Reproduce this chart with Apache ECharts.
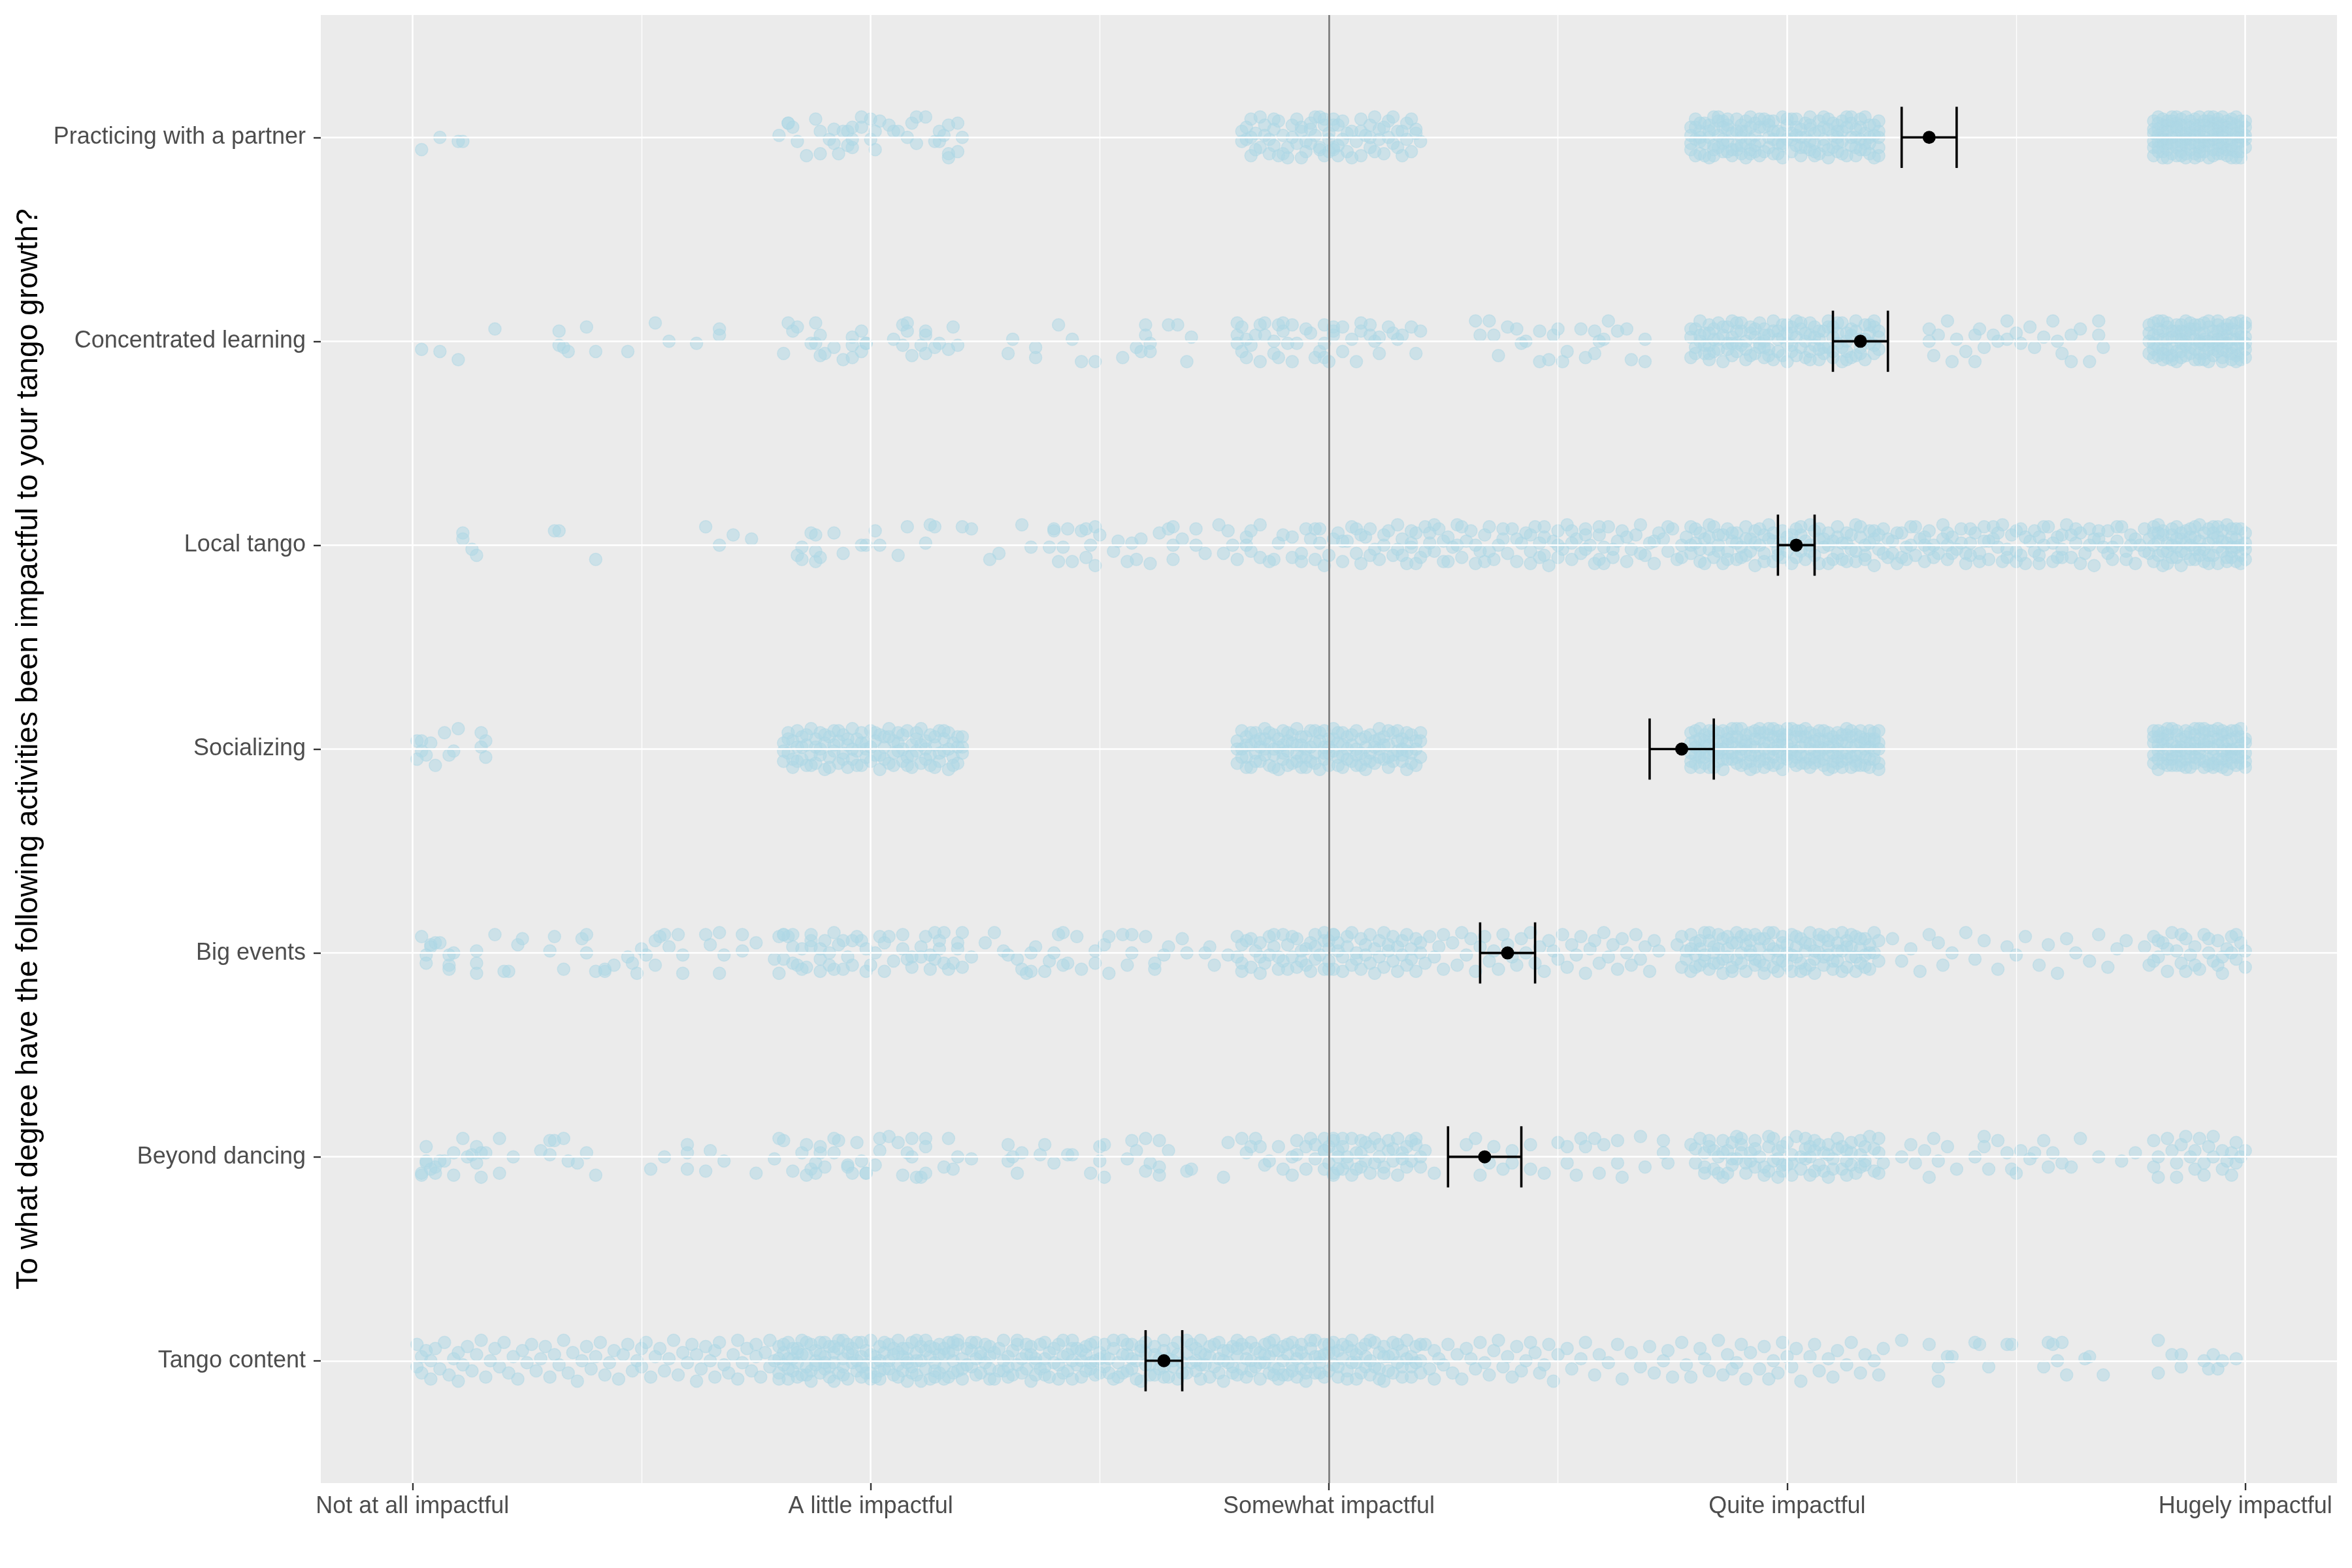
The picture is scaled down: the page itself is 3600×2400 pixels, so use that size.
<!doctype html>
<html>
<head>
<meta charset="utf-8">
<title>Tango growth activities</title>
<script src="https://cdn.jsdelivr.net/npm/echarts@6/dist/echarts.min.js"></script>
<style>html,body{margin:0;background:#fff}#chart{width:3600px;height:2400px}</style>
</head>
<body>
<div id="chart"></div>
<script>
// categories bottom to top
var activities = ['Tango content', 'Beyond dancing', 'Big events', 'Socializing', 'Local tango', 'Concentrated learning', 'Practicing with a partner'];
var levelLabels = ['Not at all impactful', 'A little impactful', 'Somewhat impactful', 'Quite impactful', 'Hugely impactful'];
var levelValues = [1, 2, 3, 4, 5];
var rowValues = [1, 2, 3, 4, 5, 6, 7];

// mean and 95% interval per activity (same order)
var means = [2.64, 3.34, 3.39, 3.77, 4.02, 4.16, 4.31];
var lower = [2.60, 3.26, 3.33, 3.70, 3.98, 4.10, 4.25];
var upper = [2.68, 3.42, 3.45, 3.84, 4.06, 4.22, 4.37];

// jittered answers, flat pairs: impact*100, vertical jitter*100
var tangoContent = [101,8,101,-3,102,-6,102,2,103,5,104,-9,104,0,105,6,106,-4,107,9,108,-7,109,1,110,4,110,-10,111,-2,112,7,113,-5,114,3,115,10,116,-8,117,0,118,6,119,-3,120,9,121,-6,122,2,123,-9,124,5,125,-1,126,8,127,-5,128,1,129,7,130,-8,131,3,132,-2,133,10,134,-6,135,4,136,-10,137,0,138,7,139,-4,140,2,141,9,142,-7,143,-1,144,5,145,-9,146,3,147,8,148,-5,149,0,150,6,
150,-3,151,9,152,-8,153,2,154,6,155,-5,156,1,157,10,158,-7,159,4,160,-1,161,8,162,-10,162,3,163,-4,164,7,165,0,166,-8,166,5,167,9,168,-2,169,-6,170,3,171,10,171,-9,172,-1,173,6,174,-5,175,2,175,8,176,-8,177,4,178,-3,178,10,179,0,180,-6,
180,7,181,-2,181,4,182,-9,182,9,183,1,183,-5,184,6,184,-1,185,10,185,-7,186,3,186,-3,187,8,187,-10,188,0,188,5,189,-6,189,9,190,2,190,-4,191,7,191,-8,192,-1,192,4,193,10,193,-6,194,1,194,-3,195,8,195,-9,196,3,196,6,197,-5,197,0,198,9,198,-8,199,-2,199,5,200,10,200,-6,201,2,201,-1,202,7,202,-9,203,4,203,-4,204,0,204,8,205,-7,205,3,206,10,206,-2,207,-5,207,6,208,1,208,-10,209,9,209,-3,210,4,210,-7,211,0,211,7,212,-4,212,10,213,2,213,-9,214,6,214,-1,215,-6,215,8,216,3,216,-3,217,9,217,-8,218,0,218,5,219,-5,219,10,220,1,220,-9,
221,6,222,-3,223,9,223,-7,224,2,225,-1,226,7,226,-9,227,4,228,-5,229,10,229,0,230,-8,231,5,232,-2,232,8,233,-6,234,3,235,-10,235,7,236,1,237,-4,238,9,238,-7,239,4,240,-1,241,8,241,-9,242,2,243,-5,244,6,244,10,245,-2,246,-8,247,3,247,7,248,-4,249,0,249,9,250,-6,250,4,
251,8,251,-3,252,1,253,-9,253,6,254,-1,255,10,255,-6,256,3,257,-4,257,8,258,0,259,-10,259,5,260,-2,260,9,261,-7,262,3,262,7,263,-4,264,10,264,-8,265,1,266,-3,266,6,267,9,267,-9,268,-1,269,4,269,-6,270,8,271,0,271,-5,272,10,272,-2,273,3,274,-8,274,7,275,-3,276,1,276,9,277,-10,277,5,278,-1,279,7,279,-6,280,2,280,10,281,-4,282,6,282,-8,283,0,283,9,284,-3,285,4,285,-9,286,8,286,-1,287,2,287,-6,288,10,288,5,289,-4,289,-9,290,7,290,0,291,-7,291,3,292,9,292,-2,293,5,293,-8,294,-4,294,8,295,1,295,-10,296,6,296,-3,297,10,297,-6,298,2,298,-1,299,8,299,-8,300,4,300,-5,
301,9,301,-2,302,5,302,-8,303,1,304,7,304,-5,305,-1,305,10,306,3,306,-9,307,6,308,-3,308,8,309,0,309,-7,310,9,311,-4,311,4,312,-10,312,7,313,2,314,-6,314,9,315,-1,316,5,316,-8,317,10,318,-3,318,2,319,7,320,-6,320,0,321,8,322,-4,323,5,323,-9,324,1,325,-2,
326,8,327,-6,328,3,329,-9,330,6,331,1,332,-4,333,9,334,-1,335,-7,336,5,337,10,338,-3,339,2,340,-8,341,7,342,-5,343,0,344,9,345,4,346,-6,347,-2,348,8,349,-10,350,3,352,6,353,-4,355,1,356,9,358,-7,359,3,361,-1,363,8,364,-9,366,4,368,-3,370,7,371,-6,373,0,374,5,375,-8,
377,9,378,-2,379,-8,381,6,382,1,383,-5,385,10,386,-7,387,3,389,-1,390,8,391,-9,392,4,394,-4,395,7,397,0,398,-6,399,9,401,-3,402,6,403,-10,405,2,406,8,407,-5,409,1,410,-8,411,5,413,-2,414,9,416,-6,417,3,419,0,420,-7,421,6,396,-9,388,-4,400,2,
425,10,431,8,433,-3,433,-10,435,2,436,2,441,9,442,8,444,-3,448,8,449,8,456,-3,457,9,458,8,459,0,460,9,461,-7,465,1,466,2,469,-7,481,-6,481,10,484,3,486,-3,486,3,491,0,492,-4,493,3,494,-4,495,0,498,1];
var tangoContentMore = [180,1,180,-9,181,8,182,-4,183,6,184,-8,185,3,186,9,187,-5,188,-2,189,3,190,9,191,-3,192,-10,193,6,194,-7,195,4,196,-1,197,9,198,2,199,-6,200,3,201,-8,202,0,203,9,204,-4,205,6,206,-8,207,2,208,6,209,-6,210,0,211,-10,212,5,213,7,214,-5,215,3,216,-9,217,4,218,-6,219,8,220,-4,182,1,186,-7,190,-1,194,10,198,-3,202,-5,206,4,210,10,214,-8,218,9,184,4,192,7,200,-9,208,-1,216,6,
221,-2,222,5,223,1,224,-6,225,8,226,-4,227,-9,228,6,229,-5,230,2,231,-7,232,10,233,1,234,-4,235,3,236,-7,237,8,238,1,239,-8,240,6,241,-2,242,10,243,3,244,-9,245,6,246,0,247,-5,248,8,249,-7,250,1,222,9,226,2,230,-3,234,8,238,-3,242,-6,246,5,248,-1,224,4,236,-1,244,0,
251,2,252,-6,253,10,254,-8,255,3,256,-5,257,1,258,-9,259,7,260,4,261,-2,262,-7,263,1,264,5,265,-8,266,0,267,3,268,-6,269,10,270,-1,271,6,272,-9,273,-2,274,2,275,8,276,-6,277,0,278,5,279,-3,280,-7,281,8,282,1,283,-5,284,6,285,-1,286,3,287,9,288,-3,289,5,290,-7,291,8,292,-5,293,1,294,4,295,-6,296,10,297,2,298,-6,299,3,300,8,256,8,264,-3,272,4,280,6,288,-7,
301,4,302,-3,303,8,304,-9,305,5,306,-1,307,-6,308,2,309,10,310,-3,311,-9,312,2,313,-5,314,3,315,8,316,-3,317,1,318,-8,319,-1,320,8];

var beyondDancing = [102,-9,102,-8,103,-3,103,5,103,-2,104,-6,105,-5,105,-8,106,-2,107,-2,109,2,109,-9,111,9,112,0,113,1,114,5,114,-3,115,2,115,-10,116,2,119,9,119,-8,122,0,128,3,130,1,130,8,131,8,133,9,134,-2,136,-3,138,2,140,-9,
152,-6,155,0,160,6,160,-6,160,2,164,-7,165,3,168,-2,175,-8,179,-1,180,9,181,8,183,-7,185,2,186,-9,186,6,187,-6,188,-8,188,-3,189,2,189,5,190,-5,192,9,192,2,193,8,195,-4,195,-5,196,-8,197,7,198,-2,199,-8,199,-8,201,-4,202,9,202,3,204,10,206,7,207,-9,208,2,209,9,209,0,210,-10,211,-10,212,9,212,-8,212,5,216,-5,217,9,218,-6,219,0,222,-1,
230,6,230,-2,231,0,232,-8,233,2,237,1,238,6,240,-3,243,1,244,1,248,-8,250,-2,250,5,251,-10,251,6,256,-1,257,8,258,3,260,9,260,-7,261,-3,263,8,263,-5,263,-9,265,3,269,-7,270,-6,277,-10,278,7,281,9,282,2,283,5,284,9,285,5,286,-4,287,-2,289,5,290,-6,292,-9,292,0,293,8,293,1,295,-6,295,5,296,9,297,6,297,-1,299,-6,299,3,301,9,301,-8,
299,9,299,3,300,-3,301,-9,301,8,302,0,303,-6,303,5,304,-3,305,9,305,-9,306,2,307,8,307,-5,308,-2,309,5,309,-8,310,9,311,0,311,6,312,-5,313,3,313,8,314,-2,315,-9,315,9,316,2,317,-5,317,5,318,-2,319,9,319,6,320,0,323,-8,
330,6,332,9,333,-9,335,-3,336,5,338,-6,340,3,340,-3,344,-6,344,6,347,-8,
350,7,352,5,352,-3,354,-9,355,9,356,5,358,9,359,-8,360,6,363,-3,363,8,364,-10,368,10,369,-5,373,8,373,2,374,-3,
379,6,380,-3,381,9,382,-8,382,2,383,5,384,-6,385,0,386,8,386,-10,387,3,388,-4,389,10,389,-1,390,6,391,-8,392,2,393,-5,393,8,394,0,395,-9,396,5,397,-2,397,9,398,3,399,-7,400,7,401,-3,401,1,402,10,403,-6,404,4,405,-9,405,0,406,8,407,-4,408,2,409,-10,409,6,410,-1,411,9,412,-6,413,3,413,-2,414,7,415,-8,416,1,417,5,417,-4,418,10,419,-7,420,2,421,-3,384,3,388,7,392,-2,396,-7,400,-4,404,-1,408,-7,412,5,416,-5,420,9,390,2,398,-10,406,3,414,-4,
425,0,427,6,428,-3,430,3,431,-10,432,9,433,-2,435,5,437,-6,441,0,443,10,443,5,444,-6,446,8,448,2,449,-6,450,-8,451,3,453,-1,454,2,456,8,457,-5,458,2,460,-3,462,-5,464,9,468,0,473,-2,
476,2,480,8,480,-5,481,-10,481,0,483,9,484,3,485,-10,485,-3,486,6,487,10,488,0,489,-6,489,3,490,9,491,-3,491,-9,492,5,493,10,493,0,495,-6,495,3,496,-2,497,-9,497,2,498,7,498,-3,499,0,500,3];
var beyondDancingMore = [300,5,302,-6,303,9,304,0,306,-6,307,2,308,7,310,-3,312,-8,314,4,316,-1,318,8,320,-5,321,3,302,3,
380,4,382,-5,383,8,385,-8,386,2,388,-1,390,9,391,-3,393,4,395,-5,396,10,398,-1,399,5,401,-9,403,0,404,9,406,-7,407,6,409,1,410,-6,411,4,413,-9,414,2,416,8,417,-2,419,4,420,-8,387,-8,399,-4,405,5];

var bigEvents = [102,8,104,4,104,3,105,5,106,5,103,-1,103,-5,108,-1,109,0,108,-6,108,-8,114,1,114,-5,114,-10,118,9,120,-9,121,-9,123,4,124,7,130,1,131,8,133,-8,137,7,138,9,138,0,140,-9,142,-9,142,-8,144,-6,147,-2,148,-5,149,-10,150,2,151,-1,153,-6,153,6,154,8,155,9,156,3,159,-1,158,9,159,-10,164,9,165,4,167,10,167,-10,168,-1,172,9,172,1,175,5,179,-3,180,8,180,-10,181,9,181,9,182,8,183,9,183,-5,184,-6,185,2,186,-7,187,6,187,3,189,-3,189,-9,190,6,191,0,192,-8,192,10,194,6,194,-8,196,-6,196,6,198,6,199,2,200,-6,202,8,203,-9,204,8,207,2,208,-3,209,-2,211,-2,212,8,213,-8,214,10,214,-3,215,2,216,10,216,-5,218,-5,219,5,220,-7,220,10,222,-2,225,5,227,10,229,1,230,-1,232,-3,233,-8,234,-10,235,-9,235,0,236,3,238,-9,239,-4,240,0,241,9,242,-6,242,10,243,-5,245,8,246,-8,249,-5,249,1,251,4,252,-10,252,8,255,9,256,-6,257,0,257,9,260,8,262,-5,262,-8,264,-1,265,3,268,7,269,0,273,0,274,3,275,-6,278,-1,280,8,281,-5,281,4,283,7,283,-7,285,-10,285,-2,287,8,288,3,289,-8,290,9,291,-8,292,-2,293,7,295,2,295,-6,296,5,297,9,297,-3,299,6,299,-8,300,2,301,9,
300,6,300,-4,301,9,301,-8,302,1,302,5,303,-2,303,-9,304,8,304,3,305,-6,305,10,306,0,306,-3,307,7,307,-8,308,4,308,-1,309,9,309,-5,310,2,310,-10,311,6,311,-2,312,10,312,-7,313,1,313,4,314,-4,314,8,315,-9,315,3,316,6,316,-1,317,9,317,-6,318,2,318,-3,319,7,319,-9,320,5,320,0,321,-5,322,8,323,-2,324,3,325,-8,325,9,
327,5,328,-6,329,10,330,-1,331,7,332,-9,333,3,334,8,335,-4,336,1,337,-8,338,9,339,4,340,-2,341,-6,342,7,343,0,344,10,345,-5,346,3,347,-9,348,6,349,1,350,-3,351,9,352,-7,353,4,354,-1,355,8,356,-10,357,2,358,6,359,-5,360,10,361,-2,362,4,363,-8,364,7,365,0,366,-6,367,9,368,-3,369,3,370,-9,371,6,372,1,
376,4,377,-7,377,8,378,1,378,-3,379,9,379,-9,380,5,380,-1,381,-6,381,2,382,10,382,-4,383,6,383,-8,384,0,384,3,385,9,385,-5,386,-10,386,7,387,2,387,-2,388,-7,388,5,389,10,389,-3,390,0,390,8,391,-9,391,4,392,-1,392,6,393,-6,393,9,394,2,394,-4,395,7,395,-10,396,-1,396,4,397,10,397,-7,398,1,398,-3,399,8,399,5,400,-6,400,0,401,9,401,-9,402,3,402,-2,403,7,403,-5,404,-8,404,1,405,10,405,4,406,-3,406,-10,407,6,407,0,408,-6,408,8,409,3,409,-1,410,9,410,-8,411,5,411,-4,412,1,412,10,413,-7,413,6,414,-2,414,3,415,8,415,-9,416,-5,416,2,417,7,417,-1,418,-8,418,4,419,10,419,0,420,-4,420,6,
423,7,425,-4,427,2,429,-9,431,9,433,5,434,-6,436,0,439,10,441,-3,443,6,446,-8,448,3,450,-1,452,8,455,-6,457,4,459,-10,461,7,463,0,466,-4,468,9,470,-7,472,2,474,6,
478,3,479,-6,480,8,481,-2,482,5,483,-9,484,10,485,1,486,-5,487,7,488,-1,489,3,490,-8,491,9,492,0,493,-4,494,6,495,-10,496,2,497,8,498,-3,499,5,500,-7,480,-4,483,2,486,9,489,-6,492,7,495,-2,498,9,500,1,481,6,487,-9,494,-6,497,0];
var bigEventsMore = [181,-3,183,3,185,-8,187,9,189,2,191,-6,193,4,195,-2,197,8,199,-9,201,0,203,5,205,-4,207,9,209,-7,211,3,213,-1,215,6,217,-8,219,2,
280,-2,281,-9,282,6,284,1,285,5,286,-5,287,-1,288,9,290,-4,291,4,292,8,293,-7,294,1,296,-9,297,3,298,-1,299,10,300,-8,289,-2,294,-4,
379,2,380,-7,381,6,382,-1,383,10,384,-5,385,2,386,-3,387,8,388,-9,389,5,390,-5,391,9,392,1,393,-3,394,7,395,-6,396,10,397,2,398,-9,399,-4,400,4,401,-1,402,8,403,-9,404,5,405,-6,406,1,407,9,408,-2,409,6,410,-4,411,1,412,-9,413,3,414,9,415,-2,416,7,417,-7,418,0];

var socializing = [101,4,102,4,102,-1,103,-3,105,-8,104,3,107,8,108,-3,109,-1,110,10,115,8,115,1,116,4,116,-4,101,-5,
181,3,181,-6,182,8,182,-2,183,-9,183,4,184,1,184,9,185,-5,185,6,186,-8,186,2,187,10,187,-3,188,5,188,-7,189,0,189,8,190,-10,190,3,191,6,191,-4,192,-1,192,9,193,-7,193,4,194,7,194,-2,195,2,195,-9,196,10,196,-5,197,-1,197,5,198,8,198,-8,199,0,199,3,200,-6,200,9,201,4,201,-3,202,-10,202,7,203,1,203,-5,204,6,204,10,205,-2,205,-8,206,3,206,8,207,-6,207,0,208,9,208,-4,209,2,209,-9,210,5,210,-1,211,10,211,-7,212,0,212,4,213,7,213,-3,214,-9,214,2,215,9,215,-6,216,-1,216,5,217,8,217,-10,218,3,218,-4,219,-7,219,6,220,1,220,-2,
280,4,280,-7,281,9,281,0,282,-4,282,6,283,-9,283,2,284,8,284,-2,285,5,285,-6,286,10,286,0,287,-8,287,3,288,7,288,-3,289,-10,289,1,290,9,290,-5,291,4,291,-1,292,-7,292,7,293,2,293,10,294,-4,294,-9,295,6,295,0,296,-6,296,9,297,3,297,-2,298,-10,298,8,299,1,299,-5,300,5,300,-8,301,10,301,-1,302,-4,302,3,303,8,303,-9,304,0,304,6,305,-6,305,2,306,9,306,-3,307,-8,307,5,308,1,308,-10,309,7,309,-2,310,4,310,-7,311,10,311,0,312,-5,312,6,313,2,313,-9,314,8,314,-3,315,-1,315,9,316,5,316,-6,317,-10,317,3,318,7,318,-2,319,0,319,-8,320,4,320,-4,284,4,288,-9,293,-6,297,9,302,8,306,-8,311,5,316,0,300,1,290,2,
379,8,379,-2,380,4,380,-7,381,10,381,-4,382,1,382,7,383,-9,383,-3,384,5,384,9,385,-6,385,0,386,3,386,-10,387,8,387,-2,388,6,388,-5,389,1,389,10,390,-8,390,4,391,-1,391,7,392,-6,392,2,393,9,393,-9,394,-3,394,5,395,0,395,8,396,-7,396,3,397,10,397,-4,398,-1,398,6,399,-10,399,2,400,7,400,-5,401,4,401,-2,402,9,402,-8,403,1,403,6,404,-4,404,10,405,-9,405,3,406,7,406,-1,407,-6,407,5,408,0,408,9,409,-3,409,-10,410,6,410,2,411,-7,411,8,412,-2,412,4,413,10,413,-5,414,1,414,-9,415,7,415,-3,416,3,416,9,417,-8,417,0,418,5,418,-5,419,-1,419,8,420,3,420,-7,
379,-6,380,1,381,-9,382,-4,383,6,384,-1,385,8,386,-5,387,2,388,10,389,-7,390,0,391,4,392,-10,393,1,394,8,395,-5,396,7,397,-8,398,2,399,5,400,-3,401,10,402,-1,403,-7,404,3,405,8,406,-4,407,1,408,-8,409,5,410,-6,411,0,412,-9,413,3,414,6,415,-6,416,-2,417,5,418,-9,419,4,420,9,
480,3,480,-7,480,9,481,-1,481,6,481,-10,482,2,482,8,483,-5,483,4,484,10,484,-3,484,-8,485,1,485,7,486,-6,486,5,486,-1,487,9,487,-9,488,3,488,-4,489,7,489,0,489,-7,490,10,490,-2,491,4,491,-9,491,8,492,-5,492,1,493,6,493,-3,494,10,494,-8,494,2,495,-1,495,7,496,-6,496,4,496,-10,497,9,497,0,498,-4,498,6,498,-8,499,2,499,10,500,-2,500,5,500,-6,482,-3,485,-4,487,3,490,5,492,9,495,-5,497,-7,499,-4,483,10,488,8,493,-9,496,0];
var socializingMore = [181,-1,182,5,183,-5,184,-6,185,1,186,7,187,-8,188,1,189,-3,190,7,191,-9,192,2,193,9,194,-5,195,5,196,0,197,-8,198,3,199,-4,200,1,201,8,202,-3,203,6,204,-7,205,4,206,-1,207,7,208,-8,209,-3,210,8,211,2,212,-5,213,-8,214,6,215,-2,216,9,217,0,218,-8,219,1,220,6,
280,0,281,-4,282,2,283,8,284,-6,285,1,286,-3,287,8,288,0,289,5,290,-2,291,-8,292,3,293,-2,294,6,295,-4,296,1,297,-7,298,4,299,9,300,-2,301,5,302,-8,303,2,304,-5,305,7,306,0,307,-2,308,6,309,-6,310,1,311,-4,312,2,313,9,314,-6,315,4,316,-3,317,8,318,-7,319,4,320,8,282,-9,286,5,291,8,295,-9,299,-2,303,-3,308,-5,313,-4,317,-1,294,2,
379,3,379,-9,380,-3,380,9,381,5,381,-1,382,-7,382,4,383,2,383,9,384,-3,384,-9,385,4,385,-2,386,0,386,9,387,-5,387,5,388,-2,388,3,389,-4,389,6,390,10,390,-3,391,2,391,-7,392,8,392,-3,393,-3,393,5,394,10,394,-6,395,3,395,-9,396,-2,396,10,397,0,397,6,398,-7,398,9,399,-4,399,7,400,2,400,10,401,-6,401,0,402,6,402,-4,403,-3,403,9,404,6,404,-7,405,0,405,-5,406,-7,406,4,407,9,407,-2,408,-5,408,4,409,1,409,8,410,-2,410,-9,411,4,411,-4,412,7,412,-6,413,-2,413,7,414,-4,414,9,415,2,415,-8,416,-8,416,6,417,3,417,-4,418,1,418,9,419,-5,419,5,420,0,420,-10,
480,-3,480,6,481,2,481,-5,482,-7,482,5,483,0,483,7,484,-5,484,3,485,-8,485,9,486,1,486,-8,487,6,487,-5,488,0,488,-9,489,3,489,10,490,-5,490,0,491,2,491,-6,492,-8,492,4,493,0,493,9,494,-5,494,5,495,3,495,-9,496,8,496,-3,497,-1,497,5,498,0,498,9,499,-7,499,6,500,3,500,-9,481,9,483,-8,485,-1,487,-2,489,-4,491,10,493,-7,495,9,497,-4,499,-1];

var localTango = [111,6,111,3,113,-2,114,-5,131,7,132,7,140,-7,164,9,167,0,170,5,174,3,
184,-5,185,-7,185,-1,187,6,188,5,188,-3,188,-8,189,-6,192,6,194,-4,198,0,199,0,201,7,202,0,206,-5,208,9,212,1,213,10,214,9,220,9,222,8,
226,-7,228,-4,233,10,235,-1,239,-1,240,7,240,8,241,-8,242,-1,243,8,244,-8,246,7,247,8,247,-6,248,0,249,9,249,-10,250,5,253,-3,254,2,256,-8,257,1,258,-7,259,3,261,-9,263,6,265,8,266,9,266,-7,266,0,268,3,271,8,271,0,273,-4,276,10,277,-4,278,7,279,0,280,-7,282,4,282,0,283,-3,283,7,285,10,285,-6,287,-8,288,-7,289,1,290,5,292,-6,292,4,294,-4,294,-8,295,8,296,3,297,8,297,-7,298,8,298,1,299,-10,300,-5,301,3,
302,6,303,-8,304,2,305,9,306,-4,307,-9,308,4,309,8,310,-2,311,-7,312,0,313,7,314,-5,315,10,316,3,317,-9,318,-1,319,6,320,-6,321,9,322,1,323,-3,324,8,325,-8,326,4,327,-1,328,10,329,-6,330,2,331,7,332,-9,333,-3,334,5,335,9,336,-7,337,0,338,3,339,-4,340,8,316,-5,318,7,321,-3,323,10,326,-8,328,0,
341,-8,342,1,343,6,344,-3,345,9,346,-6,347,4,348,-10,349,2,350,7,351,-2,352,10,353,-7,354,3,355,-4,356,8,357,0,358,-9,359,5,360,-1,361,9,362,-6,363,2,364,7,365,-8,366,-2,367,5,368,10,369,-5,370,1,371,-9,372,6,373,3,374,-3,375,8,376,-7,377,0,378,4,344,5,347,-5,350,0,353,7,356,-2,359,-7,
379,9,379,-4,380,1,381,-8,381,6,382,3,383,-2,383,10,384,-6,385,5,385,0,386,-9,387,8,387,-3,388,2,389,-7,389,6,390,-1,391,9,391,-5,392,3,393,-10,393,7,394,0,395,-4,395,5,396,10,397,-8,397,2,398,-2,399,7,399,-6,400,4,401,-9,401,1,402,8,403,-3,403,5,404,-7,405,10,405,0,406,-5,407,3,407,8,408,-1,409,-9,409,6,410,2,411,-4,411,9,412,-7,413,1,413,6,414,-2,415,10,415,-8,416,4,417,-5,417,0,418,7,419,-10,419,3,420,-2,421,8,422,-6,
423,2,424,-9,425,6,426,-1,427,9,428,-5,429,3,430,-8,431,7,432,0,433,-4,434,10,435,-7,436,4,437,-2,438,8,439,-9,440,1,441,6,442,-4,443,9,444,-7,445,3,446,-1,447,10,448,-6,449,5,450,-3,451,8,452,-9,453,2,454,7,455,-5,456,0,457,9,458,-8,459,4,460,-2,461,10,462,-6,463,1,464,6,465,-4,466,8,467,-10,468,3,469,-1,470,7,471,-7,472,2,473,9,474,-3,475,5,476,-9,477,0,478,8,425,-6,430,4,435,0,440,-5,445,9,450,7,455,-9,460,5,
479,-4,480,6,480,-8,481,2,481,10,482,-3,482,7,483,-9,483,1,484,5,484,-6,485,9,485,-1,486,3,486,-10,487,7,487,-4,488,0,488,8,489,-7,489,4,490,-2,490,10,491,6,491,-8,492,1,492,-5,493,9,493,3,494,-9,494,-1,495,7,495,2,496,-6,496,10,497,4,497,-3,498,-8,498,8,499,0,499,-5,500,6,500,-2];
var localTangoMore = [303,2,306,8,309,-5,312,5,315,-2,319,-9,322,6,325,2,329,9,332,0,335,-3,338,8,341,3,344,-9,347,9,350,-6,353,1,356,5,359,9,362,-2,365,4,368,-4,371,2,374,9,377,-6,360,-9,334,-8,318,1,307,5,346,1,
379,0,380,8,381,-2,382,-9,383,4,384,9,385,-3,386,5,387,-7,388,6,389,1,390,-6,391,3,392,-3,393,1,394,8,395,-8,396,3,397,6,398,-5,399,1,400,-3,401,5,402,-6,403,9,404,2,405,-3,406,7,407,-9,408,3,409,0,410,-7,411,4,412,1,413,-8,414,5,415,-3,416,9,417,-7,418,1,419,7,420,5,421,-4,
422,3,424,6,426,-7,428,9,430,0,432,-6,434,3,436,-4,438,1,440,8,442,-8,444,2,446,6,448,-2,450,-8,452,4,454,-3,456,9,458,1,460,-6,462,5,464,-9,466,0,468,7,470,-4,472,9,474,-7,476,3,478,-3,423,-4,427,0,431,-2,435,6,439,-4,443,2,447,-8,451,-5,455,4,459,-6,463,8,467,3,471,-1,475,0,
479,3,480,0,480,9,481,-5,482,5,482,-10,483,-3,484,8,484,0,485,-6,486,6,486,-3,487,1,488,-7,488,4,489,9,490,-5,490,2,491,-2,492,8,492,-9,493,-5,494,4,494,9,495,-3,496,1,496,-8,497,8,497,-6,498,3,498,-1,499,8,499,-9,500,1,500,-7,481,6,485,3,489,-2,493,6,497,-1];

var concentratedLearning = [102,-4,106,-5,110,-9,118,6,132,5,132,-2,133,-3,134,-5,138,7,140,-5,147,-5,153,9,156,0,162,-1,167,6,167,3,
181,-6,182,9,183,5,184,7,187,-1,188,9,188,-1,189,-7,189,3,190,-6,192,-3,194,-9,196,2,196,-8,196,-2,198,5,198,-5,199,-1,199,-1,205,1,207,8,207,-2,208,9,208,5,209,-7,211,-2,212,3,212,5,212,-6,214,-3,215,-1,217,-4,218,7,219,-2,
230,-6,231,1,236,-8,236,-3,241,8,244,1,246,-10,249,-10,255,-8,258,-3,259,-5,260,8,260,3,261,-1,261,-5,265,8,267,8,269,-10,270,2,
280,9,280,3,280,-1,281,-5,281,7,282,1,282,-8,283,-2,284,3,285,-10,285,8,286,3,286,9,288,-6,288,0,289,8,289,-8,290,5,290,9,291,-1,292,8,292,-10,293,-1,295,6,296,4,297,-8,298,-5,299,-8,301,5,301,7,
299,8,299,-1,300,-10,301,3,303,7,303,-5,305,1,306,-10,307,9,307,5,309,3,309,8,310,0,311,-6,311,2,313,7,314,4,315,1,316,3,318,7,319,-6,320,5,
332,10,333,3,335,10,336,3,337,-7,339,7,341,6,342,-1,343,0,346,-10,346,5,348,-9,349,3,350,6,351,-10,352,-5,355,6,356,-8,358,5,358,-6,359,0,360,1,361,10,363,5,365,6,366,-9,369,-10,369,1,
379,2,379,-8,380,6,380,-3,381,10,381,0,382,-6,382,4,383,8,383,-2,383,-9,384,1,384,6,385,-4,385,9,386,-10,386,3,387,7,387,-1,388,-7,388,10,388,2,389,5,389,-5,390,-2,390,9,391,0,391,-9,392,4,392,7,393,-6,393,2,394,9,394,-3,395,-8,395,6,395,0,396,3,396,-4,397,10,397,-9,398,1,398,5,399,-7,399,8,400,-1,400,4,400,-10,401,7,401,-5,402,2,402,10,403,-3,403,6,404,-8,404,0,405,9,405,3,405,-5,406,-2,406,7,407,-9,407,1,408,5,408,-6,409,10,409,-3,410,2,410,-8,410,7,411,-1,411,4,412,-10,412,9,413,0,413,-5,414,6,414,3,415,-7,415,10,416,1,416,-3,417,8,417,-9,418,4,418,-1,419,-6,419,7,420,2,420,-4,
431,6,431,0,432,-7,433,3,435,10,436,-10,437,1,439,-5,441,3,441,-10,442,6,443,-3,445,3,446,0,448,10,448,1,450,4,451,-1,453,7,454,-3,456,2,458,10,459,0,460,-6,462,3,462,-10,464,6,466,-10,468,3,468,10,469,-3,
479,4,479,-6,480,9,480,-1,480,-8,481,3,481,6,482,-4,482,10,482,-9,483,1,483,7,484,-3,484,-7,485,8,485,2,485,-10,486,-5,486,5,487,10,487,0,487,-7,488,3,488,-3,489,8,489,-9,489,6,490,-1,490,4,491,-6,491,9,491,1,492,-4,492,7,492,-10,493,2,493,-7,494,10,494,5,494,-2,495,-8,495,0,496,8,496,-5,496,3,497,6,497,-3,497,-9,498,1,498,9,499,-6,499,4,499,-1,500,7,500,-4,500,2,481,-3,484,5,486,-1,488,9,490,-6,493,-4,495,6,497,1,499,10,483,-8,487,5,491,-2,495,-4,498,-7];
var concentratedLearningMore = [379,6,380,-6,381,3,382,-2,383,4,384,-5,385,1,386,7,387,-4,388,-1,389,9,390,5,391,-4,392,-7,393,6,394,-1,395,3,396,-7,397,5,398,-5,399,2,400,8,401,-2,402,-7,403,9,404,4,405,-9,406,2,407,5,408,-3,409,7,410,-5,411,9,412,-3,413,4,414,-8,415,5,416,-6,417,1,418,8,419,-2,420,5,383,-6,389,-1,395,-3,401,4,407,-4,413,-9,419,10,
479,0,479,8,480,3,480,-4,481,-7,481,10,482,1,482,5,483,-4,483,9,484,2,484,-9,485,5,485,-5,486,8,486,1,487,-2,487,4,488,-6,488,6,489,1,489,-4,490,8,490,-9,491,4,491,-9,492,0,492,10,493,-1,493,5,494,-5,494,8,495,2,495,-10,496,-1,496,6,497,-6,497,9,498,-3,498,5,499,2,499,-9,500,-8,500,9,482,-6,486,-8,490,0,494,1,498,-10,500,-1];

var practicingPartner = [102,-6,106,0,110,-2,111,-2,
180,1,182,7,182,7,183,5,184,-2,186,-9,188,9,189,3,189,-8,191,-1,192,4,192,-3,193,-8,194,3,195,3,195,-4,196,-5,196,-1,196,5,198,10,198,5,200,9,200,-1,201,-6,201,3,202,8,204,6,205,3,206,3,208,0,209,7,210,-3,210,10,212,10,214,-2,215,-2,215,3,216,1,217,-8,217,6,217,-10,219,-7,219,7,220,0,
281,-2,281,3,282,-1,283,-9,283,9,284,2,285,-5,285,10,286,6,287,-1,287,-8,288,4,289,-9,289,8,290,1,291,-5,291,-10,292,6,293,-3,293,9,294,3,295,-7,295,-2,296,7,297,10,297,1,298,-5,299,-9,299,6,300,-1,301,9,301,-6,
299,9,300,2,301,-5,301,6,302,-9,303,-1,303,8,304,-7,305,3,306,-2,307,9,307,-9,308,1,309,6,309,-5,310,10,311,-1,311,4,312,-8,313,8,313,0,314,10,315,-5,315,3,316,-9,317,-1,317,7,318,-7,319,2,319,4,320,-2,283,0,288,-4,294,5,298,-6,304,2,310,-7,312,5,316,3,302,-4,296,-3,
379,5,379,-6,379,1,380,9,380,-1,380,-9,381,3,381,-8,381,-2,382,7,382,-3,383,0,383,-10,383,6,384,10,384,4,384,-6,385,-5,385,1,385,8,386,8,386,-7,386,-1,387,-2,387,6,387,4,388,-9,388,2,389,9,389,-4,389,-6,390,0,390,6,390,-8,391,3,391,-3,391,8,392,10,392,-6,392,-1,393,1,393,7,394,-9,394,-2,394,5,395,5,395,9,396,-5,396,0,397,8,397,-8,397,-1,398,3,398,-3,399,10,399,-10,399,2,400,6,400,-1,401,2,401,-7,401,9,402,9,402,-4,403,4,403,-9,403,-5,404,0,404,7,405,-6,405,10,405,-2,406,2,406,-3,406,-9,407,8,407,-8,408,5,408,-1,409,-10,409,9,409,4,410,1,410,-5,411,6,411,-7,411,0,412,3,412,-2,412,8,413,10,413,-9,414,-4,414,7,415,0,415,4,415,-9,416,-6,416,9,416,-1,417,2,417,-3,418,-8,418,6,418,0,419,1,419,-10,420,8,420,-5,420,3,
480,8,480,2,480,-5,480,-9,481,10,481,4,481,-2,481,-7,482,6,482,0,482,-4,482,-10,482,9,483,3,483,-6,483,8,483,-1,484,10,484,5,484,-3,484,-8,485,1,485,7,485,-5,485,-9,485,4,486,9,486,-2,486,-7,486,3,487,6,487,0,487,-4,487,10,487,-10,488,2,488,8,488,-6,488,-1,489,9,489,4,489,-3,489,-8,490,0,490,6,490,-5,490,10,490,-9,491,3,491,-2,491,8,491,-7,492,10,492,5,492,-4,492,-10,493,1,493,7,493,-6,493,-1,494,9,494,3,494,-3,494,-8,494,5,495,0,495,6,495,-5,495,10,496,2,496,-2,496,8,496,-9,497,9,497,4,497,-6,497,-1,498,6,498,0,498,-4,498,-10,498,10,499,3,499,8,499,-7,499,-2,500,5,500,-5,500,1];
var practicingPartnerMore = [282,5,284,-6,286,1,288,9,290,-8,292,0,294,-10,296,4,298,10,300,-7,302,6,305,-10,307,3,309,0,314,-3,318,9,
379,-3,380,5,381,7,382,-9,383,3,384,-4,385,10,386,-3,387,9,388,-6,389,3,390,-4,391,-10,392,5,393,-4,394,9,395,-7,396,6,397,3,398,-8,399,-4,400,9,401,-1,402,5,403,0,404,-5,405,6,406,-7,407,3,408,10,409,-6,410,7,411,-3,412,-8,413,5,414,0,415,-5,416,5,417,10,418,-3,419,6,420,-9,381,0,384,-9,387,-7,390,3,393,-7,396,8,399,-3,402,1,405,4,408,-4,411,3,414,10,417,-6,420,0,386,5,392,-8,
480,4,480,-2,481,1,481,-5,482,3,482,-7,483,6,483,-3,484,0,484,8,485,-2,485,10,486,-4,486,6,487,2,487,-8,488,5,488,-3,489,1,489,-10,490,3,490,-7,491,0,491,6,492,-2,492,8,493,4,493,-9,494,0,494,-6,495,3,495,-3,496,5,496,-6,497,-4,497,7,498,2,498,-7,499,5,499,-10,500,-1,500,8,481,7,483,-10,485,5,487,-1,489,6,491,-4,493,10,495,-8,497,-10,499,0,482,-1,486,-9,490,-3,494,7];

var rows = [
  tangoContent.concat(tangoContentMore),
  beyondDancing.concat(beyondDancingMore),
  bigEvents.concat(bigEventsMore),
  socializing.concat(socializingMore),
  localTango.concat(localTangoMore),
  concentratedLearning.concat(concentratedLearningMore),
  practicingPartner.concat(practicingPartnerMore)
];

var answers = [];
rows.forEach(function (row, i) {
  for (var k = 0; k < row.length; k += 2) {
    answers.push([row[k] / 100, rowValues[i] + row[k + 1] / 100]);
  }
});
var meanPoints = means.map(function (m, i) { return [m, rowValues[i]]; });
var intervals = means.map(function (m, i) { return [rowValues[i], lower[i], upper[i]]; });

var font = "'Liberation Sans', Arial, Helvetica, sans-serif";

var gridLines = [];
[1.5, 2.5, 3.5, 4.5].forEach(function (v) {
  gridLines.push({ xAxis: v, lineStyle: { color: '#fff', width: 1.3, type: 'solid' } });
});
levelValues.forEach(function (v) {
  gridLines.push({ xAxis: v, lineStyle: { color: '#fff', width: 2.6, type: 'solid' } });
});
rowValues.forEach(function (v) {
  gridLines.push({ yAxis: v, lineStyle: { color: '#fff', width: 2.6, type: 'solid' } });
});

var chart = echarts.init(document.getElementById('chart'));
var option = {
  animation: false,
  backgroundColor: '#fff',
  grid: { left: 491, right: 23, top: 23, bottom: 130, show: true, backgroundColor: '#EBEBEB', borderWidth: 0 },
  xAxis: {
    type: 'value', min: 0.8, max: 5.2,
    axisLine: { show: false },
    splitLine: { show: false },
    axisTick: { show: true, customValues: levelValues, length: 11, lineStyle: { color: '#333', width: 2.4 } },
    axisLabel: {
      customValues: levelValues, margin: 18, fontSize: 36, color: '#4D4D4D', fontFamily: font,
      formatter: function (v) { return levelLabels[Math.round(v) - 1]; }
    }
  },
  yAxis: {
    type: 'value', min: 0.4, max: 7.6,
    name: 'To what degree have the following activities been impactful to your tango growth?',
    nameLocation: 'middle', nameGap: 424, nameRotate: 90,
    nameTextStyle: { fontSize: 46, color: '#000', fontFamily: font },
    axisLine: { show: false },
    splitLine: { show: false },
    axisTick: { show: true, customValues: rowValues, length: 11, lineStyle: { color: '#333', width: 2.4 } },
    axisLabel: {
      customValues: rowValues, margin: 23, fontSize: 36, color: '#4D4D4D', fontFamily: font,
      formatter: function (v) { return activities[Math.round(v) - 1]; }
    }
  },
  series: [
    {
      type: 'scatter', z: 1, silent: true, symbolSize: 0, data: [[0.8, 0.4]],
      markLine: { z: 1, silent: true, symbol: 'none', animation: false, label: { show: false }, data: gridLines }
    },
    {
      type: 'scatter', z: 2, silent: true, symbolSize: 19, data: answers,
      itemStyle: { color: '#ADD8E6', opacity: 0.5, borderColor: '#ADD8E6', borderWidth: 1.5 }
    },
    {
      type: 'scatter', z: 3, silent: true, symbolSize: 0, data: [[3, 0.4]],
      markLine: {
        z: 3, silent: true, symbol: 'none', animation: false, label: { show: false },
        data: [{ xAxis: 3, lineStyle: { color: '#7F7F7F', width: 2.8, type: 'solid' } }]
      }
    },
    {
      type: 'custom', z: 4, silent: true,
      encode: { x: [1, 2], y: 0 },
      data: intervals,
      renderItem: function (params, api) {
        var y = api.value(0);
        var a = api.coord([api.value(1), y]);
        var b = api.coord([api.value(2), y]);
        var top = api.coord([api.value(1), y + 0.15])[1];
        var bot = api.coord([api.value(1), y - 0.15])[1];
        var w = 3.6;
        return {
          type: 'group',
          children: [
            { type: 'rect', shape: { x: a[0], y: a[1] - w / 2, width: b[0] - a[0], height: w }, style: { fill: '#000' } },
            { type: 'rect', shape: { x: a[0] - w / 2, y: top, width: w, height: bot - top }, style: { fill: '#000' } },
            { type: 'rect', shape: { x: b[0] - w / 2, y: top, width: w, height: bot - top }, style: { fill: '#000' } }
          ]
        };
      }
    },
    {
      type: 'scatter', z: 5, silent: true, symbolSize: 20, data: meanPoints,
      itemStyle: { color: '#000', opacity: 1 }
    }
  ]
};
chart.setOption(option);
</script>
</body>
</html>
